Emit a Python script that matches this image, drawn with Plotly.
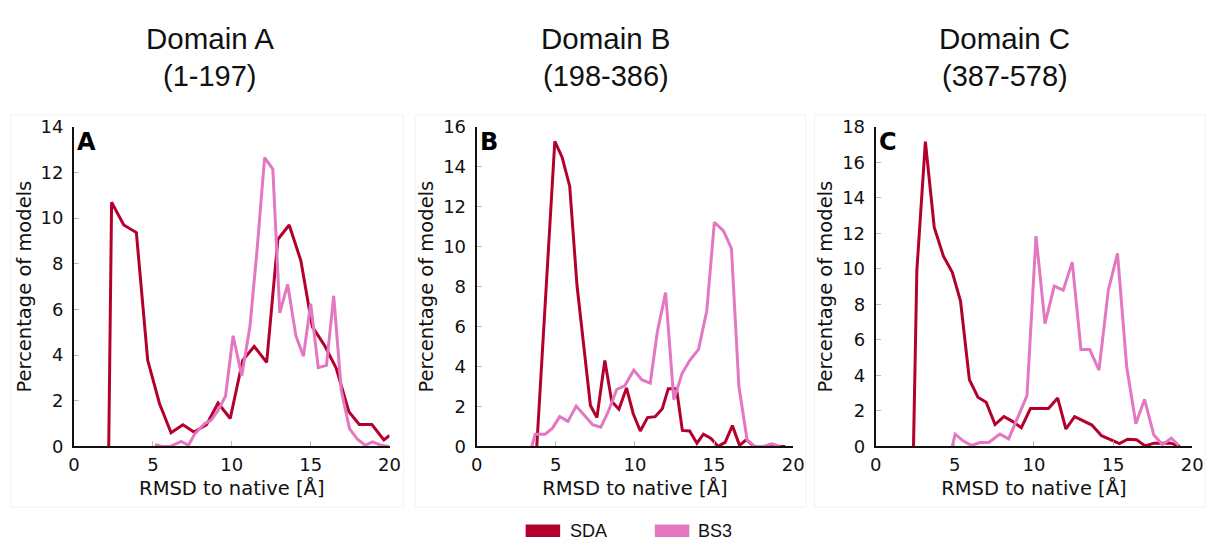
import plotly.graph_objects as go

W, H = 1218, 549

# ---------------- data ----------------
panel_titles = ["Domain A", "Domain B", "Domain C"]
panel_ranges = ["(1-197)", "(198-386)", "(387-578)"]
panel_letters = ["A", "B", "C"]
series_names = ["SDA", "BS3"]
y_max = [14, 16, 18]
x_ticks = [0, 5, 10, 15, 20]

A_SDA_x = [2.2, 2.38, 3.15, 3.95, 4.67, 5.42, 6.15, 6.9, 7.6, 8.4, 9.13, 9.9, 10.69, 11.42, 12.21,
           12.92, 13.64, 14.38, 15.1, 15.9, 16.62, 17.42, 18.08, 18.88, 19.64, 20.0]
A_SDA_y = [0, 10.7, 9.7, 9.37, 3.77, 1.87, 0.6, 0.95, 0.63, 0.95, 1.9, 1.22, 3.77, 4.38, 3.68,
           9.07, 9.7, 8.13, 5.25, 4.4, 3.42, 1.52, 0.96, 0.96, 0.28, 0.48]
A_BS3_x = [5.13, 5.6, 6.1, 6.8, 7.25, 7.66, 8.28, 8.7, 9.1, 9.6, 10.08, 10.63, 11.15, 11.6, 12.08,
           12.6, 13.04, 13.54, 14.06, 14.54, 15.0, 15.48, 16.0, 16.46, 16.94, 17.46, 17.98, 18.46,
           18.92, 19.45, 19.95]
A_BS3_y = [0.07, 0.0, 0.0, 0.22, 0.05, 0.55, 1.0, 1.15, 1.55, 2.2, 4.85, 3.1, 5.25, 8.6, 12.65,
           12.15, 5.85, 7.1, 4.85, 3.95, 6.25, 3.45, 3.55, 6.6, 2.45, 0.78, 0.3, 0.05, 0.2, 0.05, 0.0]

B_SDA_x = [3.8, 4.94, 5.4, 5.88, 6.34, 7.19, 7.6, 8.1, 8.54, 8.99, 9.47, 9.89, 10.34, 10.8, 11.28,
           11.73, 12.11, 12.63, 13.0, 13.46, 13.92, 14.33, 14.81, 15.26, 15.7, 16.16, 16.61, 17.05,
           17.51, 18.5, 19.5]
B_SDA_y = [0, 15.28, 14.48, 13.03, 8.07, 2.05, 1.44, 4.3, 2.24, 1.86, 2.93, 1.65, 0.77, 1.44, 1.49,
           1.89, 2.89, 2.89, 0.8, 0.77, 0.16, 0.61, 0.4, 0, 0.2, 1.04, 0.05, 0.34, 0, 0, 0]
B_BS3_x = [3.49, 3.7, 4.32, 4.78, 5.25, 5.77, 6.29, 6.81, 7.33, 7.85, 8.31, 8.85, 9.37, 9.93, 10.45,
           10.97, 11.42, 11.94, 12.46, 12.98, 13.46, 14.02, 14.54, 15.02, 15.6, 16.1, 16.57, 17.09,
           17.57, 18.13, 18.65, 19.17]
B_BS3_y = [0, 0.61, 0.61, 0.9, 1.49, 1.25, 2.02, 1.57, 1.09, 0.96, 1.73, 2.85, 3.05, 3.82, 3.33,
           3.17, 5.74, 7.7, 2.34, 3.65, 4.3, 4.86, 6.78, 11.22, 10.79, 9.91, 3.01, 0.32, 0, 0, 0.13, 0]

C_SDA_x = [2.39, 2.6, 3.14, 3.7, 4.28, 4.84, 5.36, 5.92, 6.46, 6.98, 7.54, 8.1, 8.64, 9.2, 9.78,
           10.34, 10.92, 11.5, 12.02, 12.57, 13.08, 13.66, 14.27, 14.83, 15.4, 15.92, 16.48, 17.03,
           17.58, 18.14, 18.65, 19.23]
C_SDA_y = [0, 9.9, 17.17, 12.34, 10.72, 9.81, 8.19, 3.76, 2.77, 2.49, 1.23, 1.68, 1.41, 1.05, 2.13,
           2.13, 2.13, 2.72, 0.98, 1.68, 1.45, 1.2, 0.6, 0.36, 0.16, 0.4, 0.38, 0.02, 0.18, 0.18,
           0.18, 0]
C_BS3_x = [4.84, 5.02, 5.5, 6.05, 6.6, 7.15, 7.85, 8.4, 9.56, 10.13, 10.7, 11.28, 11.85, 12.42,
           12.97, 13.52, 14.11, 14.7, 15.28, 15.86, 16.44, 16.99, 17.57, 18.11, 18.68, 19.15]
C_BS3_y = [0, 0.69, 0.33, 0.05, 0.22, 0.22, 0.69, 0.42, 2.86, 11.85, 6.92, 9.03, 8.8, 10.38,
           5.46, 5.46, 4.3, 8.8, 10.87, 4.48, 1.28, 2.65, 0.65, 0.1, 0.46, 0.05]

panels = [
    ((A_SDA_x, A_SDA_y), (A_BS3_x, A_BS3_y)),
    ((B_SDA_x, B_SDA_y), (B_BS3_x, B_BS3_y)),
    ((C_SDA_x, C_SDA_y), (C_BS3_x, C_BS3_y)),
]

# ---------------- style ----------------
COLORS = ["#B3002D", "#E377C2"]
AX_FONT = "DejaVu Sans"
TXT_FONT = "Liberation Sans, Arial"
INK = "#111111"

def px(x):
    return x / W

def py(y):
    return 1 - y / H

x_boxes = [(69, 389), (477.3, 798.3), (882, 1203)]
top_px, bot_px = 120.5, 452.7
title_cx = [207, 608, 1013]
bg_boxes = [(5, 403), (415, 811), (820, 1216)]

fig = go.Figure()
layout = dict(
    width=W, height=H, margin=dict(l=0, r=0, t=0, b=0),
    paper_bgcolor="white", plot_bgcolor="white", showlegend=False,
)
annotations = []
shapes = []

for i, (sda, bs3) in enumerate(panels):
    xa = "x" if i == 0 else f"x{i+1}"
    ya = "y" if i == 0 else f"y{i+1}"
    for j, (xs, ys) in enumerate((sda, bs3)):
        fig.add_trace(go.Scatter(
            x=xs, y=ys, mode="lines", name=series_names[j],
            line=dict(color=COLORS[j], width=3), xaxis=xa, yaxis=ya,
            showlegend=False,
        ))
    xk = "xaxis" if i == 0 else f"xaxis{i+1}"
    yk = "yaxis" if i == 0 else f"yaxis{i+1}"
    l, r = x_boxes[i]
    layout[xk] = dict(
        domain=[px(l), px(r)], anchor=ya, range=[0, 20], tickvals=x_ticks,
        showgrid=False, zeroline=False, showline=True, linecolor=INK, linewidth=2,
        ticks="inside", ticklen=5, tickcolor="#bbbbbb", tickwidth=1,
        tickfont=dict(family=AX_FONT, size=18, color=INK),
        ticklabelstandoff=1,
        title=dict(text="RMSD to native [Å]", font=dict(family=AX_FONT, size=19.5, color=INK),
                   standoff=7),
    )
    layout[yk] = dict(
        domain=[py(bot_px), py(top_px)], anchor=xa, range=[0, y_max[i]], dtick=2,
        showgrid=False, zeroline=False, showline=True, linecolor=INK, linewidth=2,
        ticks="inside", ticklen=5, tickcolor="#bbbbbb", tickwidth=1,
        tickfont=dict(family=AX_FONT, size=18, color=INK),
        ticklabelstandoff=5,
        title=dict(text="Percentage of models", font=dict(family=AX_FONT, size=19.5, color=INK),
                   standoff=4),
    )
    annotations.append(dict(
        text=f"<b>{panel_letters[i]}</b>", x=px(l + 1), y=py(136), xref="paper", yref="paper",
        xanchor="left", yanchor="middle", showarrow=False,
        font=dict(family=AX_FONT, size=24, color="black"),
    ))
    annotations.append(dict(
        text=panel_titles[i], x=px(title_cx[i]), y=py(29), xref="paper", yref="paper",
        xanchor="center", yanchor="middle", showarrow=False,
        font=dict(family=TXT_FONT, size=29.5, color=INK),
    ))
    annotations.append(dict(
        text=panel_ranges[i], x=px(title_cx[i]), y=py(68), xref="paper", yref="paper",
        xanchor="center", yanchor="middle", showarrow=False,
        font=dict(family=TXT_FONT, size=29, color=INK),
    ))
    bl, br = bg_boxes[i]
    shapes.append(dict(type="rect", xref="paper", yref="paper", x0=px(bl), x1=px(br),
                       y0=py(516), y1=py(108), line=dict(color="#f2f2f2", width=1),
                       fillcolor="rgba(0,0,0,0)", layer="below"))

# legend (manual, bottom centre)
leg = [(527, 570, series_names[0], COLORS[0]), (658, 700, series_names[1], COLORS[1])]
for sx, tx, name, col in leg:
    shapes.append(dict(type="rect", xref="paper", yref="paper", x0=px(sx), x1=px(sx + 35),
                       y0=py(547), y1=py(534), line=dict(width=0), fillcolor=col))
    annotations.append(dict(
        text=name, x=px(tx), y=py(540.5), xref="paper", yref="paper",
        xanchor="left", yanchor="middle", showarrow=False,
        font=dict(family=TXT_FONT, size=18, color=INK),
    ))

layout["annotations"] = annotations
layout["shapes"] = shapes
fig.update_layout(**layout)
fig.write_html("out.html")
